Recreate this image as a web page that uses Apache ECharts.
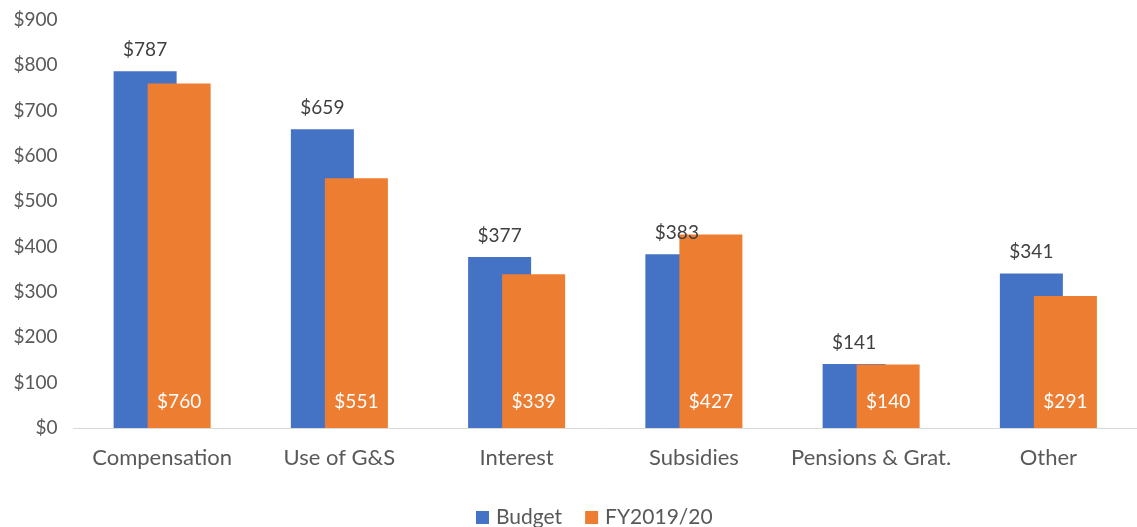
<!DOCTYPE html>
<html>
<head>
<meta charset="utf-8">
<script src="https://cdn.jsdelivr.net/npm/echarts@6/dist/echarts.min.js"></script>
<style>
  html, body { margin: 0; padding: 0; background: #fff; }
  #main { width: 1137px; height: 527px; }
</style>
</head>
<body>
<div id="main"></div>
<script>
// categories and values
var categories = ['Compensation', 'Use of G&S', 'Interest', 'Subsidies', 'Pensions & Grat.', 'Other'];
var budget = [787, 659, 377, 383, 141, 341];
var fy1920 = [760, 551, 339, 427, 140, 291];

var myChart = echarts.init(document.getElementById('main'));
var font = 'Lato, Open Sans, sans-serif';

var option = {
    animation: false,
    textStyle: { fontFamily: font },
    grid: { left: 73.5, width: 1068.5, top: 20, height: 408 },
    legend: {
        data: ['Budget', 'FY2019/20'],
        top: 502,
        left: 471,
        itemWidth: 13,
        itemHeight: 13,
        itemGap: 23,
        icon: 'rect',
        textStyle: { fontSize: 21, color: '#595959', fontFamily: font, padding: [0, 0, 0, 2] }
    },
    xAxis: {
        type: 'category',
        data: categories,
        axisTick: { show: false },
        axisLine: { lineStyle: { color: '#d9d9d9', width: 1 } },
        axisLabel: { interval: 0, fontSize: 22, color: '#595959', margin: 19, fontFamily: font }
    },
    yAxis: {
        type: 'value',
        min: 0,
        max: 900,
        interval: 100,
        splitLine: { show: false },
        axisLabel: {
            fontSize: 19, color: '#595959', margin: 16, fontFamily: font,
            formatter: function (v) { return '$' + v; }
        }
    },
    series: [
        {
            name: 'Budget',
            type: 'bar',
            data: budget,
            barWidth: 63,
            barGap: '-46%',
            itemStyle: { color: '#4472C4' },
            label: {
                show: true,
                position: 'top',
                distance: 12,
                fontSize: 19,
                color: '#404040',
                fontFamily: font,
                formatter: function (p) { return '$' + p.value; }
            }
        },
        {
            name: 'FY2019/20',
            type: 'bar',
            data: fy1920,
            barWidth: 63,
            itemStyle: { color: '#ED7D31' },
            label: {
                show: true,
                position: 'insideBottom',
                distance: 17,
                fontSize: 19,
                color: '#ffffff',
                fontFamily: font,
                formatter: function (p) { return '$' + p.value; }
            }
        }
    ]
};
myChart.setOption(option);
</script>
</body>
</html>
